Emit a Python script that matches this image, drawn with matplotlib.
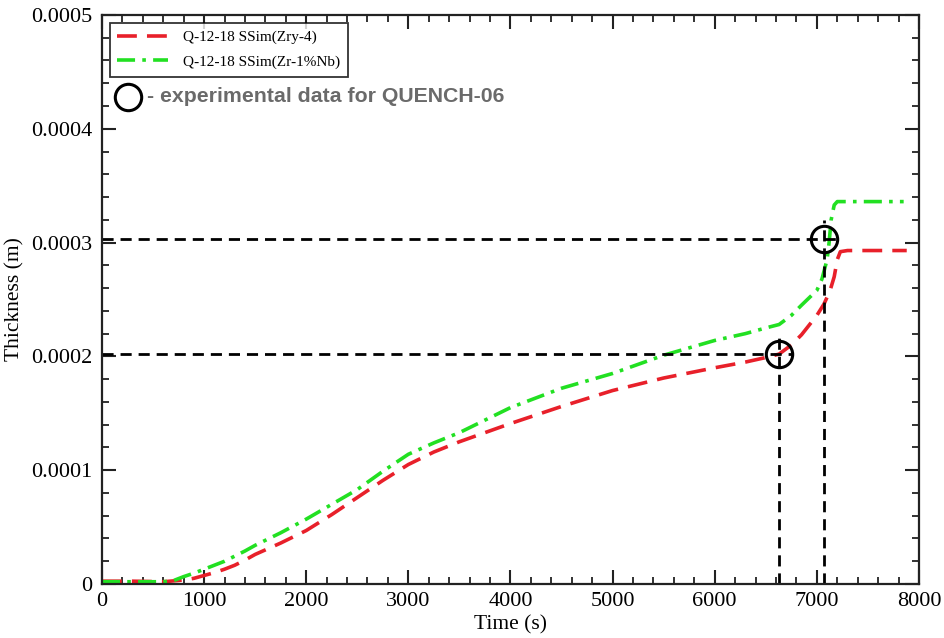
import matplotlib
matplotlib.use("Agg")
import matplotlib.pyplot as plt
from matplotlib.ticker import MultipleLocator, FuncFormatter

# Oxide layer thickness, Q-12-18 SSim runs
t_zry = [0, 300, 600, 800, 900, 1000, 1100, 1200, 1300, 1400, 1500, 1750, 2000,
         2250, 2500, 2750, 3000, 3250, 3500, 4000, 4500, 5000, 5500, 6000, 6300,
         6500, 6630, 6750, 6850, 7000, 7070, 7130, 7170, 7200, 7230, 7300, 7880]
v_zry = [2.5e-6, 2.5e-6, 2.0e-6, 3.5e-6, 5e-6, 7.5e-6, 10e-6, 13e-6, 16.5e-6,
         21e-6, 26e-6, 36e-6, 47e-6, 61e-6, 76e-6, 91e-6, 105e-6, 116e-6, 125e-6,
         141e-6, 156e-6, 170e-6, 181e-6, 190e-6, 195e-6, 199e-6, 202e-6, 210e-6,
         219e-6, 236e-6, 246e-6, 258e-6, 270e-6, 285e-6, 292e-6, 293e-6, 293e-6]

t_nb = [0, 300, 600, 700, 800, 900, 1000, 1100, 1200, 1300, 1400, 1500, 1750, 2000,
        2250, 2500, 2750, 3000, 3250, 3500, 4000, 4500, 5000, 5500, 6000, 6300,
        6500, 6630, 6750, 6850, 7000, 7050, 7100, 7120, 7140, 7170, 7200, 7850]
v_nb = [2e-6, 2e-6, 2e-6, 3e-6, 6.5e-6, 9.5e-6, 13e-6, 16.5e-6, 20e-6, 24.5e-6,
        29e-6, 34e-6, 45e-6, 57e-6, 70e-6, 83e-6, 99e-6, 114e-6, 124e-6, 133e-6,
        155e-6, 172e-6, 185e-6, 201e-6, 214e-6, 220e-6, 225e-6, 228e-6, 236e-6,
        245e-6, 258e-6, 268e-6, 285e-6, 300e-6, 320e-6, 333e-6, 336e-6, 336e-6]

# QUENCH-06 measurements (time, thickness)
exp_t = [6630, 7070]
exp_v = [0.000202, 0.000303]
# extent of the guide lines past each measurement
guide_t_end = [6760, 7200]
guide_v_end = [0.000220, 0.000320]

serif = ["Liberation Serif", "DejaVu Serif"]

fig = plt.figure(figsize=(9.44, 6.38), dpi=100)
ax = fig.add_axes([0.108, 0.0846, 0.8655, 0.892])

ax.plot(t_zry, v_zry, color="#e8202a", lw=2.6, ls=(0, (5.5, 2.8)),
        label="Q-12-18 SSim(Zry-4)")
ax.plot(t_nb, v_nb, color="#22e022", lw=2.6, ls=(0, (5, 2, 1, 2)),
        label="Q-12-18 SSim(Zr-1%Nb)")

for t, v, te, ve in zip(exp_t, exp_v, guide_t_end, guide_v_end):
    ax.plot([0, te], [v, v], color="black", lw=2, ls=(0, (4, 2.5)))
    ax.plot([t, t], [0, ve], color="black", lw=2, ls=(0, (4, 2.5)))
    ax.plot([t], [v], marker="o", ms=19, mfc="none", mec="black", mew=2.2)

ax.set_xlim(0, 8000)
ax.set_ylim(0, 0.0005)
ax.xaxis.set_major_locator(MultipleLocator(1000))
ax.xaxis.set_minor_locator(MultipleLocator(200))
ax.yaxis.set_major_locator(MultipleLocator(0.0001))
ax.yaxis.set_minor_locator(MultipleLocator(0.00002))
ax.yaxis.set_major_formatter(FuncFormatter(lambda v, p: "0" if abs(v) < 1e-12 else f"{v:.4f}"))
ax.tick_params(which="both", direction="in", top=True, right=True,
               colors="#222222", labelcolor="black")
ax.tick_params(which="major", length=10, width=1.5, labelsize=16)
ax.tick_params(axis="y", which="major", pad=7)
ax.tick_params(axis="x", which="major", pad=6)
ax.tick_params(which="minor", length=5, width=1.3)
for lab in ax.get_xticklabels() + ax.get_yticklabels():
    lab.set_family(serif)
for s in ax.spines.values():
    s.set_linewidth(1.6)
    s.set_color("#222222")

ax.set_xlabel("Time (s)", family=serif, fontsize=15.5, labelpad=3)
ax.set_ylabel("Thickness (m)", family=serif, fontsize=15.5, labelpad=5)

leg = ax.legend(loc="upper left", bbox_to_anchor=(0.0095, 0.986),
                prop={"family": serif, "size": 11}, frameon=True, fancybox=False,
                edgecolor="black", handlelength=3.3, borderpad=0.5,
                labelspacing=0.7, handletextpad=1.0, borderaxespad=0)
leg.get_frame().set_linewidth(1.3)

# legend key for the measurement circles
ax.plot([0.032], [0.856], marker="o", ms=19, mfc="none", mec="black", mew=2.2,
        transform=ax.transAxes, clip_on=False)
ax.text(0.055, 0.856, "- experimental data for QUENCH-06", transform=ax.transAxes,
        family=["Liberation Sans", "DejaVu Sans"], fontweight="bold", fontsize=15.3,
        color="#6a6a6a", va="center", ha="left")

fig.savefig("out.png", dpi=100)
